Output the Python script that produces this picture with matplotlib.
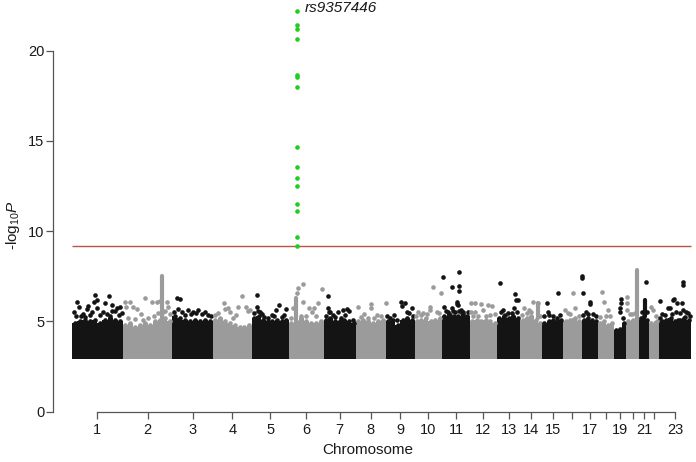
import numpy as np
import matplotlib
matplotlib.use('Agg')
import matplotlib.pyplot as plt

plt.rcParams['font.family'] = ['Liberation Sans', 'DejaVu Sans']
plt.rcParams['mathtext.fontset'] = 'custom'
plt.rcParams['mathtext.rm'] = 'Liberation Sans'
plt.rcParams['mathtext.it'] = 'Liberation Sans:italic'

# ---------------- data ----------------
chromosomes = [str(i) for i in range(1, 24)]
shown_labels = ['1', '2', '3', '4', '5', '6', '7', '8', '9', '10', '11', '12',
                '13', '14', '15', '', '17', '', '19', '', '21', '', '23']
chrom_len = [249.25, 243.2, 198.0, 191.15, 180.9, 171.1, 159.1, 146.4, 141.2,
             135.5, 135.0, 133.85, 115.2, 107.35, 102.5, 90.35, 81.2, 78.1,
             59.1, 63.0, 48.1, 51.3, 155.3]

p_floor = 3.0          # smallest -log10 P shown
threshold = 9.18       # genome-wide line

# top of the dense cloud of SNPs, evenly spaced along each chromosome
mass_top = [
    [4.9, 5.0, 5.1, 5.0, 5.1, 4.9, 5.1, 5.2, 5.1, 5.0],
    [4.8, 4.9, 4.7, 4.8, 4.9, 4.8, 5.0, 5.1, 5.2, 5.0],
    [5.3, 5.2, 5.1, 5.0, 5.1, 5.0, 5.1, 5.0],
    [5.1, 5.2, 5.0, 4.9, 4.8, 4.7, 4.7, 4.8],
    [5.2, 5.3, 5.1, 5.0, 5.0, 5.1, 5.0, 5.1],
    [4.9, 5.0, 5.2, 5.0, 4.9, 4.9, 5.0],
    [5.1, 5.2, 5.0, 5.0, 5.1, 5.0, 4.9],
    [5.0, 5.1, 5.0, 4.9, 5.0, 5.1],
    [5.0, 5.1, 4.8, 5.1, 5.2, 5.1],
    [5.0, 5.1, 5.2, 5.0, 5.1, 5.2],
    [5.3, 5.4, 5.3, 5.3, 5.4, 5.3],
    [5.0, 5.1, 5.0, 5.1, 5.0, 4.9],
    [5.2, 5.3, 5.2, 5.3, 5.2],
    [5.1, 5.2, 5.3, 5.1, 4.9],
    [4.9, 5.0, 5.1, 5.0, 5.1],
    [5.0, 5.1, 5.2, 5.0],
    [5.1, 5.2, 5.1, 5.0],
    [4.9, 5.0, 4.8, 4.9],
    [4.5, 4.6, 4.9],
    [5.0, 5.1, 5.2],
    [5.2, 5.3, 5.1],
    [4.9, 5.0],
    [5.0, 5.1, 5.2, 5.0, 5.1, 5.2, 5.1],
]

# individual SNPs above the cloud: (position in Mb, -log10 P)
fringe = [
    [(10, 5.5), (18, 5.3), (26, 6.05), (36, 5.8), (44, 5.3), (52, 5.4), (62, 5.25),
     (75, 5.7), (80, 5.85), (88, 5.35), (96, 5.55), (109, 6.1), (113, 6.45), (124, 6.2),
     (124, 5.72), (138, 5.35), (150, 5.5), (162, 6.0), (170, 5.4), (180, 6.4), (188, 5.3),
     (195, 5.9), (198, 5.6), (211, 5.6), (222, 5.75), (230, 5.35), (235, 5.81), (243, 5.45)],
    [(11, 6.05), (16, 5.8), (25, 5.2), (35, 6.1), (51, 5.8), (60, 5.15), (71, 5.7),
     (90, 5.4), (100, 5.1), (110, 6.3), (125, 5.2), (142, 6.05), (155, 5.3), (166, 6.1),
     (175, 5.45), (182, 6.15), (198, 5.5), (205, 5.6), (215, 6.05), (222, 5.8), (232, 5.4)],
    [(8, 5.55), (21, 6.3), (29, 5.7), (37, 6.25), (45, 5.55), (60, 5.35), (78, 5.63),
     (90, 5.4), (102, 5.5), (115, 5.45), (127, 5.63), (145, 5.4), (159, 5.5),
     (175, 5.35), (188, 5.3)],
    [(12, 5.35), (27, 5.45), (56, 6.04), (60, 5.7), (76, 5.72), (84, 5.5), (100, 5.2),
     (114, 5.35), (125, 5.81), (145, 6.4), (163, 5.81), (174, 5.6), (185, 5.63)],
    [(10, 5.45), (27, 6.46), (27, 5.81), (32, 5.6), (40, 5.54), (50, 5.4), (61, 5.26),
     (81, 5.2), (98, 5.35), (110, 5.3), (119, 5.63), (135, 5.9), (147, 5.25), (158, 5.35),
     (168, 5.7)],
    [(12, 5.2), (20, 5.72), (40, 6.55), (48, 6.87), (60, 5.3), (69, 7.07), (72, 6.1),
     (85, 5.3), (100, 5.72), (113, 5.54), (126, 5.72), (135, 5.3), (145, 6.0), (165, 6.8)],
    [(10, 5.3), (24, 6.4), (24, 5.72), (26, 5.54), (32, 5.54), (48, 5.35), (58, 5.25),
     (70, 5.54), (86, 5.17), (97, 5.63), (106, 5.35), (114, 5.7), (125, 5.6), (143, 5.1)],
    [(11, 5.81), (25, 5.25), (40, 5.4), (58, 5.2), (74, 5.95), (74, 5.72), (88, 5.2),
     (101, 5.35), (125, 5.3), (145, 6.0)],
    [(8, 5.3), (21, 5.17), (40, 5.35), (53, 5.08), (73, 6.09), (78, 5.85), (94, 6.0),
     (102, 5.54), (115, 5.45), (127, 5.72), (135, 5.3)],
    [(8, 5.3), (18, 5.54), (30, 5.35), (43, 5.45), (60, 5.4), (75, 5.81), (75, 5.63),
     (92, 6.93), (108, 5.54), (118, 5.45), (129, 6.6)],
    [(2, 7.48), (9, 5.81), (20, 5.6), (30, 5.55), (38, 5.35), (47, 6.93), (47, 5.72),
     (55, 5.6), (63, 5.54), (74, 6.09), (74, 5.94), (78, 5.9), (80, 5.6), (82, 7.76),
     (82, 6.97), (82, 6.7), (90, 5.65), (96, 5.45), (104, 5.55), (112, 5.26), (125, 5.5)],
    [(6, 6.0), (6, 5.54), (15, 5.3), (25, 6.0), (25, 5.54), (40, 5.3), (55, 5.96),
     (66, 5.63), (78, 5.3), (91, 5.9), (100, 5.35), (110, 5.85), (125, 5.4)],
    [(14, 7.11), (22, 5.5), (30, 5.63), (39, 5.35), (55, 5.45), (72, 5.45), (83, 5.72),
     (88, 6.5), (93, 6.18), (98, 5.55), (104, 6.18)],
    [(8, 5.35), (17, 5.72), (30, 5.45), (41, 5.63), (52, 5.5), (62, 6.09), (84, 6.0),
     (95, 5.3)],
    [(10, 5.3), (25, 6.0), (28, 5.54), (33, 5.35), (50, 5.3), (70, 5.17), (75, 6.55),
     (88, 5.35)],
    [(8, 5.63), (24, 5.45), (35, 5.4), (49, 6.55), (57, 5.72), (75, 5.3)],
    [(2, 7.52), (2, 7.42), (6, 6.55), (8, 5.35), (20, 5.54), (30, 5.4), (39, 6.09),
     (39, 5.96), (55, 5.4), (68, 5.3)],
    [(10, 5.25), (18, 6.65), (26, 6.09), (36, 5.3), (48, 5.63), (60, 5.3)],
    [(27, 5.5), (30, 5.72), (35, 6.0), (35, 6.25), (45, 5.2)],
    [(2, 6.35), (4, 6.0), (6, 5.63), (18, 5.4), (30, 5.4), (44, 5.45)],
    [(12, 5.5), (32, 7.2), (40, 5.5)],
    [(12, 5.81), (20, 5.63), (35, 5.3)],
    [(1, 6.12), (1, 5.17), (15, 5.4), (30, 5.35), (44, 5.72), (52, 5.72), (60, 5.4),
     (68, 6.18), (73, 6.22), (80, 5.5), (88, 6.0), (93, 5.08), (100, 5.45), (109, 6.0),
     (117, 7.2), (117, 7.02), (117, 5.63), (125, 5.26), (133, 5.5), (141, 5.45), (150, 5.3)],
]

# dense vertical stacks of SNPs: (chromosome, position Mb, low, high)
stacks = [(2, 191, 5.0, 7.5), (6, 35, 5.0, 6.3), (14, 84, 5.2, 6.0),
          (20, 53, 5.2, 7.85), (21, 31, 5.3, 6.2)]

lead_chrom = 6
lead_pos = 43.0
lead_values = [22.2, 21.4, 21.2, 20.65, 18.65, 18.55, 17.97, 14.67, 13.57,
               12.93, 12.5, 11.5, 11.1, 9.67, 9.17]
lead_label = 'rs9357446'

# ---------------- drawing ----------------
BLACK = '#141414'
GRAY = '#9b9b9b'
GREEN = '#1fcf1f'
RED = '#bd5245'
AXIS = '#555555'
TEXT = '#1a1a1a'
DOT = 11

fig = plt.figure(figsize=(6.96, 4.62), dpi=100)
ax = fig.add_axes([53 / 696, (462 - 411.7) / 462, (696 - 53) / 696, 411.7 / 462])

lens = np.array(chrom_len)
starts = np.concatenate([[0.0], np.cumsum(lens)[:-1]])
mids = starts + lens / 2
total = lens.sum()
colors = [BLACK if i % 2 == 0 else GRAY for i in range(len(lens))]

for i in range(len(lens)):
    c = colors[i]
    h = np.array(mass_top[i])
    edges = np.linspace(starts[i], starts[i] + lens[i], len(h) + 1)
    ax.stairs(h, edges, baseline=p_floor - 0.08, fill=True, color=c, lw=0, zorder=1)
    # dotted top edge of the cloud
    centers = (edges[:-1] + edges[1:]) / 2
    ax.scatter(centers, h, s=DOT, c=c, linewidths=0, zorder=1.5)
    if fringe[i]:
        pos, val = zip(*fringe[i])
        ax.scatter(starts[i] + np.array(pos), val, s=DOT, c=c, linewidths=0, zorder=2)

for chrom, pos, lo, hi in stacks:
    ax.vlines(starts[chrom - 1] + pos, lo, hi, colors=colors[chrom - 1],
              linewidth=3.0, capstyle='round', zorder=2)

ax.hlines(threshold, 0, total, colors=RED, linewidth=1.0, zorder=3)

gx = starts[lead_chrom - 1] + lead_pos
ax.scatter([gx] * len(lead_values), lead_values, s=DOT, c=GREEN, linewidths=0, zorder=4)
ax.annotate(lead_label, (gx, max(lead_values)), xytext=(5.5, 2), textcoords='offset points',
            ha='left', va='center', style='italic', fontsize=11, color=TEXT)

px_per_mb = 619 / total
left = -(72 - 53) / px_per_mb
ax.set_xlim(left, left + 643 / px_per_mb)
ax.set_ylim(0, 411.7 / 18.05)

for s in ['top', 'right']:
    ax.spines[s].set_visible(False)
ax.spines['left'].set_bounds(0, 20)
ax.spines['bottom'].set_bounds(mids[0], mids[-1])
for s in ['left', 'bottom']:
    ax.spines[s].set_color(AXIS)
    ax.spines[s].set_linewidth(0.9)

ax.set_yticks([0, 5, 10, 15, 20])
ax.set_xticks(mids)
ax.set_xticklabels(shown_labels)
ax.tick_params(axis='y', length=5, width=0.9, color=AXIS, pad=1.2, labelsize=10.5, labelcolor=TEXT)
ax.tick_params(axis='x', length=5, width=0.9, color=AXIS, pad=3, labelsize=10.5, labelcolor=TEXT)

fig.text(367.5 / 696, 1 - 450 / 462, 'Chromosome', ha='center', va='center',
         fontsize=11, color=TEXT)
fig.text(13 / 696, 1 - 225 / 462, r'-log$_{\mathregular{10}}$$\mathit{P}$', ha='center',
         va='center', rotation=90, fontsize=11, color=TEXT)

fig.savefig('out.png', dpi=100)
